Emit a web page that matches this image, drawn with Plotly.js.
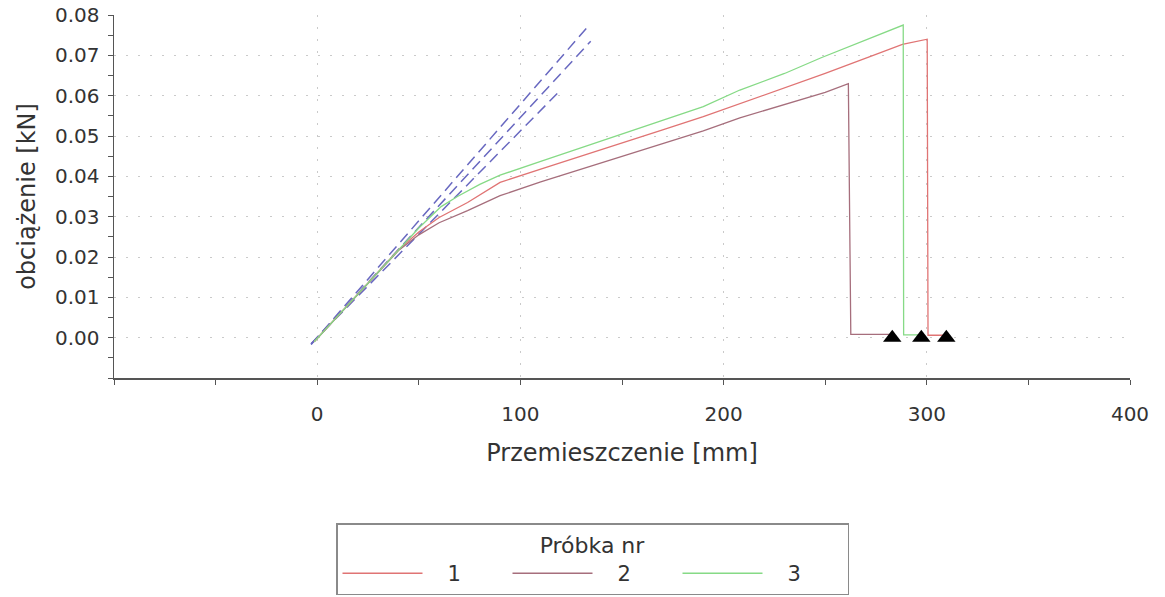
<!DOCTYPE html>
<html>
<head>
<meta charset="utf-8">
<script src="https://cdn.plot.ly/plotly-3.0.1.min.js"></script>
<style>html,body{margin:0;padding:0;background:#fff;}#chart{width:1165px;height:597px;}</style>
</head>
<body>
<div id="chart"></div>
<script>
// ---- data ----
const seriesNames = ['1', '2', '3'];

const s1x = [-1.5, 10, 20, 30, 40, 50, 60, 74, 90, 110, 130, 150, 170, 190, 208, 230, 250, 272, 288, 300.2, 300.6, 309.6];
const s1y = [-0.001, 0.0053, 0.0108, 0.0163, 0.0218, 0.0262, 0.0298, 0.0335, 0.0385, 0.0418, 0.0450, 0.0483, 0.0515, 0.0548, 0.0580, 0.0618, 0.0655, 0.0697, 0.0727, 0.0740, 0.0006, 0.0006];

const s2x = [-1.5, 10, 20, 30, 40, 50, 60, 74, 90, 110, 130, 150, 170, 190, 208, 230, 250, 261.4, 262.6, 283];
const s2y = [-0.001, 0.0053, 0.0108, 0.0163, 0.0216, 0.0255, 0.0285, 0.0315, 0.0352, 0.0386, 0.0418, 0.0450, 0.0482, 0.0513, 0.0545, 0.0578, 0.0608, 0.0630, 0.0008, 0.0008];

const s3x = [-1.5, 10, 20, 30, 40, 50, 61, 69, 80, 90, 110, 130, 150, 170, 190, 208, 230, 248, 270, 288.4, 288.6, 297.3];
const s3y = [-0.001, 0.0053, 0.0108, 0.0163, 0.0218, 0.0272, 0.0325, 0.0350, 0.0380, 0.0403, 0.0437, 0.0471, 0.0505, 0.0538, 0.0573, 0.0614, 0.0655, 0.0694, 0.0738, 0.0775, 0.0007, 0.0007];

// elastic (initial stiffness) lines, dashed
const elasticX = [[-3, 133], [-3, 134.6], [-3, 120]];
const elasticY = [[-0.0017, 0.0770], [-0.0016, 0.0735], [-0.0015, 0.0615]];

// failure markers
const failX = [283, 297.3, 309.6];
const failY = [0, 0, 0];

const xTickVals = [0, 100, 200, 300, 400];
const xTickText = ['0', '100', '200', '300', '400'];
const xMinorVals = [-100, -50, 50, 150, 250, 350];
const yTickVals = [0, 0.01, 0.02, 0.03, 0.04, 0.05, 0.06, 0.07, 0.08];
const yTickText = ['0.00', '0.01', '0.02', '0.03', '0.04', '0.05', '0.06', '0.07', '0.08'];
const yMinorVals = [-0.01, -0.005, 0.005, 0.015, 0.025, 0.035, 0.045, 0.055, 0.065, 0.075];

const xTitle = 'Przemieszczenie [mm]';
const yTitle = 'obciążenie [kN]';
const legendTitle = 'Próbka nr';

// ---- styles ----
const FONT = 'DejaVu Sans, Verdana, sans-serif';
const colors = ['#e07474', '#a66e7c', '#86da86'];
const dashColor = '#6868c0';
const labelPad = '\u00a0\u00a0\u00a0';

const traces = [];
elasticX.forEach((xs, i) => {
  traces.push({x: xs, y: elasticY[i], type: 'scatter', mode: 'lines', showlegend: false, hoverinfo: 'skip',
    line: {color: dashColor, width: 1.5, dash: '11px,6px'}});
});
const sx = [s1x, s2x, s3x], sy = [s1y, s2y, s3y];
seriesNames.forEach((n, i) => {
  traces.push({x: sx[i], y: sy[i], type: 'scatter', mode: 'lines', name: labelPad + n,
    line: {color: colors[i], width: 1.3}});
});
traces.push({x: failX, y: failY, type: 'scatter', mode: 'markers', showlegend: false,
  marker: {symbol: 'triangle-up', size: 16, color: '#000'}});

const xr = [-100, 400], yr = [-0.01, 0.08];
const layout = {
  width: 1165, height: 597,
  margin: {l: 114, r: 35, t: 15, b: 219},
  paper_bgcolor: '#fff', plot_bgcolor: '#fff',
  font: {family: FONT, color: '#333'},
  showlegend: true,
  xaxis: {
    range: xr, tickmode: 'array', tickvals: xTickVals, ticktext: xTickText,
    ticks: 'outside', ticklen: 5, tickwidth: 1, tickcolor: '#555',
    minor: {tickmode: 'array', tickvals: xMinorVals, ticks: 'outside', ticklen: 5, tickcolor: '#555', showgrid: false},
    showline: true, linecolor: '#555', linewidth: 1.5,
    showgrid: true, gridcolor: '#cacaca', gridwidth: 1, griddash: '2px,10px',
    zeroline: false, tickfont: {size: 20, family: FONT, color: '#333'},
    ticklabelstandoff: 12,
    title: {text: xTitle, font: {size: 24, family: FONT, color: '#333'}, standoff: 19}
  },
  yaxis: {
    range: yr, tickmode: 'array', tickvals: yTickVals, ticktext: yTickText,
    ticks: 'outside', ticklen: 5, tickwidth: 1, tickcolor: '#555',
    minor: {tickmode: 'array', tickvals: yMinorVals, ticks: 'outside', ticklen: 5, tickcolor: '#555', showgrid: false},
    showline: true, linecolor: '#555', linewidth: 1.5,
    showgrid: true, gridcolor: '#cacaca', gridwidth: 1, griddash: '2px,10px',
    zeroline: false, tickfont: {size: 20, family: FONT, color: '#333'},
    ticklabelstandoff: 4,
    title: {text: yTitle, font: {size: 24, family: FONT, color: '#333'}, standoff: 12}
  },
  xaxis2: {range: xr, overlaying: 'x', anchor: 'y', side: 'top', showline: true, linecolor: '#a8a8a8', linewidth: 2,
    ticks: '', showticklabels: false, showgrid: false, zeroline: false},
  yaxis2: {range: yr, overlaying: 'y', anchor: 'x', side: 'right', showline: true, linecolor: '#a8a8a8', linewidth: 2,
    ticks: '', showticklabels: false, showgrid: false, zeroline: false},
  xaxis3: {range: xr, overlaying: 'x', anchor: 'y', side: 'bottom', showline: false,
    tickmode: 'array', tickvals: xTickVals, ticks: 'inside', ticklen: 5, tickcolor: '#555',
    minor: {tickmode: 'array', tickvals: xMinorVals, ticks: 'inside', ticklen: 5, tickcolor: '#555', showgrid: false},
    showticklabels: false, showgrid: false, zeroline: false},
  yaxis3: {range: yr, overlaying: 'y', anchor: 'x', side: 'left', showline: false,
    tickmode: 'array', tickvals: yTickVals, ticks: 'inside', ticklen: 5, tickcolor: '#555',
    minor: {tickmode: 'array', tickvals: yMinorVals, ticks: 'inside', ticklen: 5, tickcolor: '#555', showgrid: false},
    showticklabels: false, showgrid: false, zeroline: false},
  legend: {
    orientation: 'h', xref: 'container', yref: 'container',
    x: 336 / 1165, y: 1 - 523 / 597, xanchor: 'left', yanchor: 'top',
    bgcolor: '#fff', bordercolor: '#8a8a8a', borderwidth: 1.5,
    font: {size: 21, family: FONT, color: '#333'},
    title: {text: legendTitle, side: 'top center', font: {size: 22, family: FONT, color: '#333'}},
    itemwidth: 80, entrywidth: 75, entrywidthmode: 'pixels', traceorder: 'normal'
  }
};

Plotly.newPlot('chart', traces, layout, {displayModeBar: false, staticPlot: true});
</script>
</body>
</html>
